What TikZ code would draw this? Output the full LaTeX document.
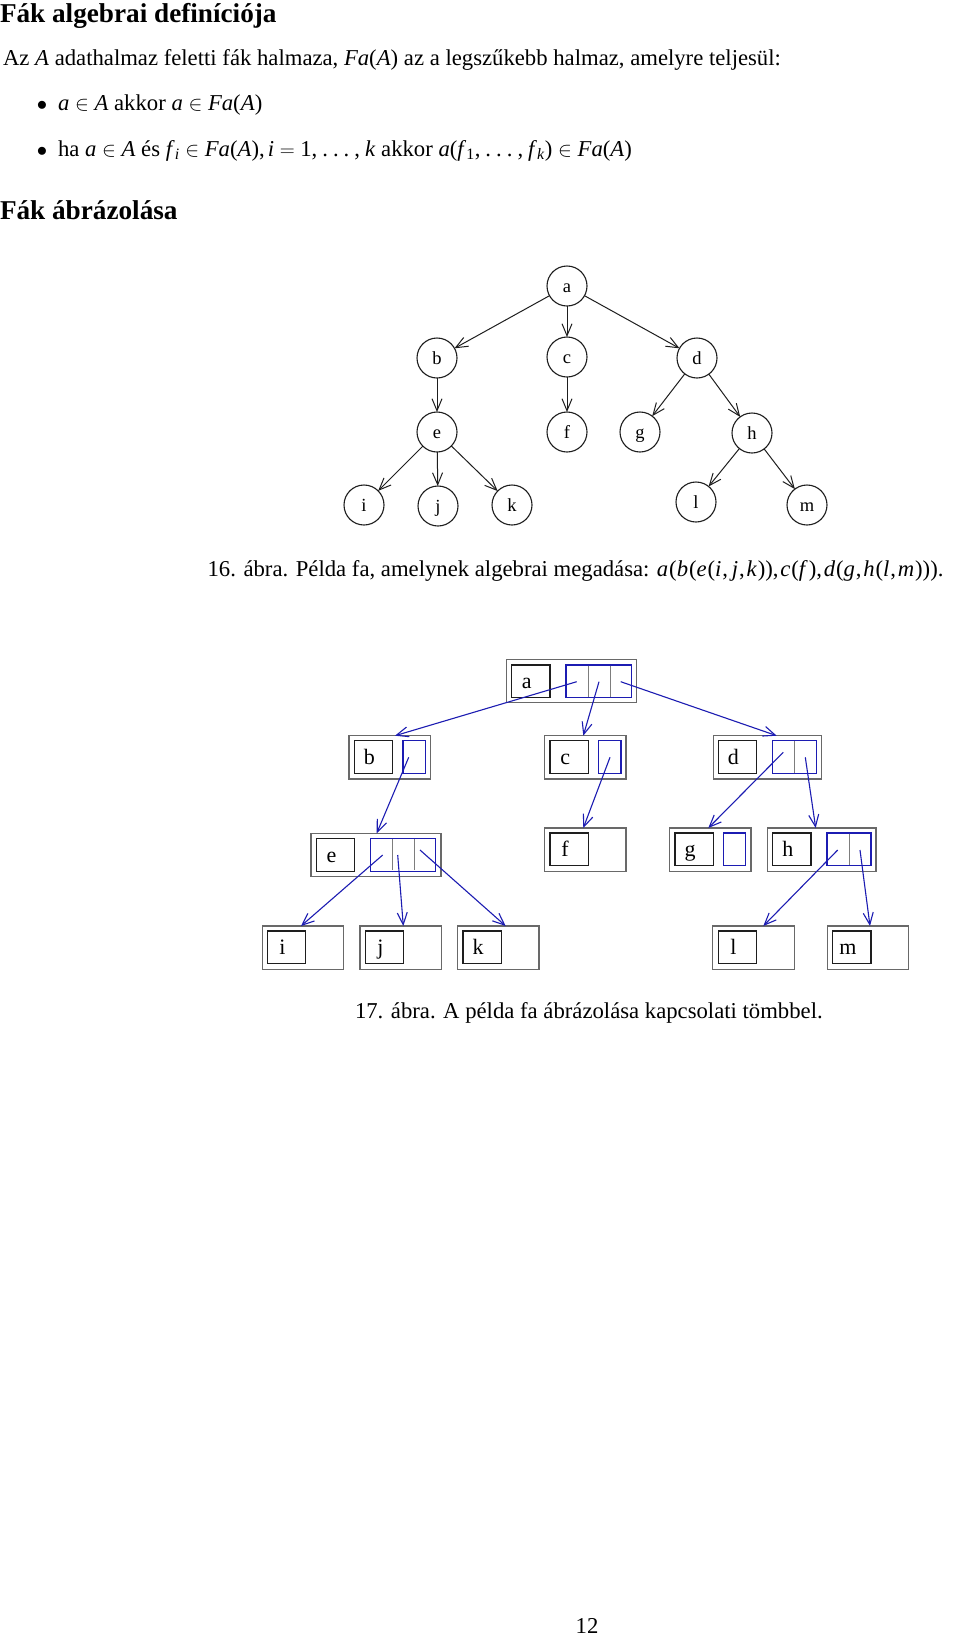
\documentclass[tikz,border=0pt]{standalone}
\usepackage{fontspec}
\setmainfont{Liberation Serif}
\usetikzlibrary{arrows.meta}
\definecolor{lnk}{RGB}{28,28,178}
\definecolor{frame}{RGB}{105,105,105}
\definecolor{divider}{RGB}{125,125,125}
\definecolor{ink}{RGB}{30,30,30}
\newcommand{\mi}[1]{\textit{#1\/}}
\newcommand{\mj}[1]{\textit{#1\/}\kern0.9pt}
\newcommand{\cm}{,\kern1.8pt}
\newcommand{\dts}{,\kern5pt.\kern5pt.\kern5pt.\kern5pt,\kern5pt}
\begin{document}
\begin{tikzpicture}[x=1pt,y=-1pt,
  txt/.style={anchor=base west,inner sep=0pt,outer sep=0pt,font=\fontsize{22.7}{27}\selectfont},
  head/.style={anchor=base west,inner sep=0pt,outer sep=0pt,font=\fontsize{27.2}{32}\selectfont\bfseries},
  cnode/.style={circle,draw=ink,line width=1.1pt,minimum size=40pt,inner sep=0pt,outer sep=0pt,
    text height=13pt,text depth=0pt,font=\fontsize{18.5}{20}\selectfont},
  tarrow/.style={draw=ink,line width=1pt,-{Straight Barb[length=12pt,width=10pt]}},
  outerbox/.style={draw=frame,line width=1.2pt,rectangle,inner sep=0pt,outer sep=0pt,anchor=north west,minimum height=43.3pt},
  lblbox/.style={draw=ink,line width=1.3pt,rectangle,inner sep=0pt,outer sep=0pt,anchor=north west,
    minimum width=38.3pt,minimum height=32.7pt,text height=14pt,text depth=0pt,font=\fontsize{22}{24}\selectfont,
    execute at begin node=\kern-8pt},
  cellbox/.style={draw=lnk,line width=1.2pt,rectangle,inner sep=0pt,outer sep=0pt,anchor=north west,minimum height=32.7pt},
  div/.style={draw=divider,line width=1pt},
  larrow/.style={draw=lnk,line width=1.1pt,-{Straight Barb[length=12pt,width=10pt]}}
]
\fill[white] (0,0) rectangle (960,1636);
\useasboundingbox (0,0) rectangle (960,1636);

% ---------- text ----------
\node[head] (h1) at (0,22) {Fák algebrai definíciója};
\node[txt] (p1) at (3,65) {Az \mi{A} adathalmaz feletti fák halmaza, \mi{Fa}(\mi{A}) az a legszűkebb halmaz, amelyre teljesül:};
\node[txt,anchor=base] (bu1) at (42,110) {$\bullet$};
\node[txt] (l1) at (58,110) {\mi{a} $\in$ \mi{A} akkor \mi{a} $\in$ \mi{Fa}(\mi{A})};
\node[txt,anchor=base] (bu2) at (42,156) {$\bullet$};
\node[txt] (l2) at (58,156) {ha \mi{a} $\in$ \mi{A} és \mi{f}\textsubscript{\mi{i}} $\in$ \mi{Fa}(\mi{A}),\kern3pt\mi{i} $=$ 1\dts\mi{k} akkor \mi{a}(\mi{f}\textsubscript{1}\dts\mi{f}\textsubscript{\mi{k}}) $\in$ \mi{Fa}(\mi{A})};
\node[head] (h2) at (0,219) {Fák ábrázolása};

% ---------- tree ----------
\node[cnode] (a) at (567,286) {a};
\node[cnode] (b) at (437,358) {b};
\node[cnode] (c) at (567,357) {c};
\node[cnode] (d) at (697,358) {d};
\node[cnode] (e) at (437,432) {e};
\node[cnode] (f) at (567,432) {f};
\node[cnode] (g) at (640,432) {g};
\node[cnode] (h) at (752,433) {h};
\node[cnode] (i) at (364,505) {i};
\node[cnode] (j) at (438,506) {j};
\node[cnode] (k) at (512,505) {k};
\node[cnode] (l) at (696,502) {l};
\node[cnode] (m) at (807,505) {m};
\draw[tarrow] (a) -- (b);
\draw[tarrow] (a) -- (c);
\draw[tarrow] (a) -- (d);
\draw[tarrow] (b) -- (e);
\draw[tarrow] (c) -- (f);
\draw[tarrow] (d) -- (g);
\draw[tarrow] (d) -- (h);
\draw[tarrow] (e) -- (i);
\draw[tarrow] (e) -- (j);
\draw[tarrow] (e) -- (k);
\draw[tarrow] (h) -- (l);
\draw[tarrow] (h) -- (m);

\node[txt] (cap16) at (207.6,576) {16. ábra. Példa fa, amelynek algebrai megadása: \mj{a}(\mj{b}(\mj{e}(\mj{i}\cm\kern2pt\mj{j}\cm\mj{k}))\cm\mj{c}(\mj{f})\cm\mj{d}(\mj{g}\cm\mj{h}(\mj{l}\cm\mj{m}))).};

% ---------- linked array ----------
% outer frames
\node[outerbox,minimum width=130pt] (aO) at (506.7,659.3) {};
\node[outerbox,minimum width=81.3pt] (bO) at (349,735.7) {};
\node[outerbox,minimum width=81.3pt] (cO) at (544.7,735.7) {};
\node[outerbox,minimum width=108.4pt] (dO) at (713.3,735.7) {};
\node[outerbox,minimum width=130pt] (eO) at (311,833.3) {};
\node[outerbox,minimum width=81.3pt] (fO) at (544.7,828) {};
\node[outerbox,minimum width=81.7pt] (gO) at (669.3,828) {};
\node[outerbox,minimum width=108.3pt] (hO) at (767.7,828) {};
\node[outerbox,minimum width=81pt] (iO) at (262.3,926) {};
\node[outerbox,minimum width=81.3pt] (jO) at (360,926) {};
\node[outerbox,minimum width=81.3pt] (kO) at (457.7,926) {};
\node[outerbox,minimum width=81.6pt] (lO) at (712.7,926) {};
\node[outerbox,minimum width=81.4pt] (mO) at (827.3,926) {};
% label boxes
\node[lblbox] (aL) at (511.7,665) {a};
\node[lblbox] (bL) at (354.3,740.7) {b};
\node[lblbox] (cL) at (550,740.7) {c};
\node[lblbox] (dL) at (718.3,740.7) {d};
\node[lblbox] (eL) at (316.3,838.7) {e};
\node[lblbox] (fL) at (550,833) {f};
\node[lblbox] (gL) at (675,833) {g};
\node[lblbox] (hL) at (772.7,833) {h};
\node[lblbox] (iL) at (267.3,931) {i};
\node[lblbox] (jL) at (365.3,931) {j};
\node[lblbox] (kL) at (463,931) {k};
\node[lblbox] (lL) at (718.3,931) {l};
\node[lblbox] (mL) at (832.7,931) {m};
% pointer cells
\node[cellbox,minimum width=65.7pt] (aC) at (566,665) {};
\node[cellbox,minimum width=22.3pt] (bC) at (403,740.7) {};
\node[cellbox,minimum width=22.3pt] (cC) at (598.7,740.7) {};
\node[cellbox,minimum width=44pt] (dC) at (772.7,740.7) {};
\node[cellbox,minimum width=65pt] (eC) at (370.7,838.7) {};
\node[cellbox,minimum width=22.4pt] (gC) at (723.3,833) {};
\node[cellbox,minimum width=44pt] (hC) at (827,833) {};
\draw[div] (588.3,665.6) -- (588.3,697.1);
\draw[div] (610,665.6) -- (610,697.1);
\draw[div] (794.7,741.3) -- (794.7,772.7);
\draw[div] (392.7,839.3) -- (392.7,870.4);
\draw[div] (414,839.3) -- (414,870.4);
\draw[div] (849,833.6) -- (849,865.4);
% pointer starts
\coordinate (a1) at (576.7,681.7);
\coordinate (a2) at (599,681.7);
\coordinate (a3) at (620.7,681.7);
\coordinate (b1) at (408.7,757.3);
\coordinate (c1) at (610,757.3);
\coordinate (d1) at (783.3,752.3);
\coordinate (d2) at (805.3,757.3);
\coordinate (e1) at (382.7,855);
\coordinate (e2) at (397.7,855);
\coordinate (e3) at (420,850);
\coordinate (h1p) at (837.7,850);
\coordinate (h2p) at (860,850);
% pointers
\draw[larrow] (a1) -- ([xshift=46pt]bO.north west);
\draw[larrow] (a2) -- ([xshift=38.6pt]cO.north west);
\draw[larrow] (a3) -- ([xshift=63.4pt]dO.north west);
\draw[larrow] (b1) -- ([xshift=65.7pt]eO.north west);
\draw[larrow] (c1) -- ([xshift=38.6pt]fO.north west);
\draw[larrow] (d1) -- ([xshift=39pt]gO.north west);
\draw[larrow] (d2) -- ([xshift=48pt]hO.north west);
\draw[larrow] (e1) -- ([xshift=38.7pt]iO.north west);
\draw[larrow] (e2) -- ([xshift=43.3pt]jO.north west);
\draw[larrow] (e3) -- ([xshift=48pt]kO.north west);
\draw[larrow] (h1p) -- ([xshift=50.6pt]lO.north west);
\draw[larrow] (h2p) -- ([xshift=42.7pt]mO.north west);

\node[txt] (cap17) at (355,1018) {17. ábra. A példa fa ábrázolása kapcsolati tömbbel.};
\node[txt,anchor=base] (pg) at (587,1633) {12};
\end{tikzpicture}
\end{document}
